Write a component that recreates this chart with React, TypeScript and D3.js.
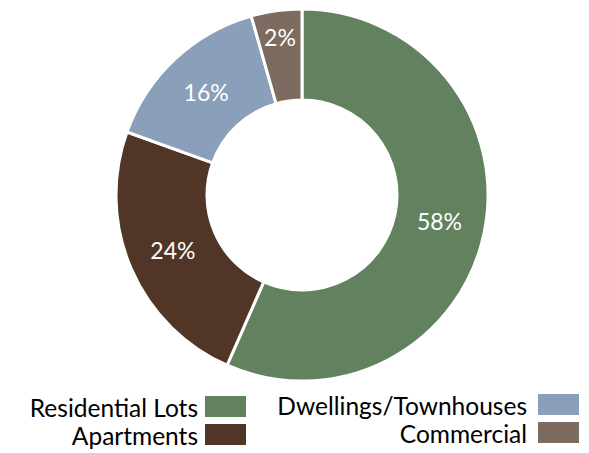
import React from "react";
import * as d3 from "d3";

const categories = ["Residential Lots", "Apartments", "Dwellings/Townhouses", "Commercial"];
// slice sizes as drawn
const values = [56.6, 23.9, 15.1, 4.4];
// data labels as printed on the chart
const labels = ["58%", "24%", "16%", "2%"];
const colors = ["#62825F", "#513628", "#8A9FBA", "#7D6B60"];

const WIDTH = 589;
const HEIGHT = 453;
const FONT = "Lato, 'Open Sans', sans-serif";

const App = () => {
    const cx = 302;
    const cy = 195;
    const outerRadius = 186;
    const innerRadius = 95;

    const pie = d3.pie<number>().sort(null).value((d) => d);
    const arcs = pie(values);
    const arcGen = d3.arc<d3.PieArcDatum<number>>()
        .innerRadius(innerRadius)
        .outerRadius(outerRadius);
    const midR = (innerRadius + outerRadius) / 2;

    // legend: two columns, text right-aligned before the swatch
    const legend = [
        {i: 0, textX: 198, boxX: 205, y: 396},
        {i: 1, textX: 198, boxX: 205, y: 424},
        {i: 2, textX: 527, boxX: 538, y: 394},
        {i: 3, textX: 527, boxX: 538, y: 422},
    ];

    return (
        <svg width={WIDTH} height={HEIGHT} style={{position: "absolute", left: 0, top: 0}}>
            <rect width={WIDTH} height={HEIGHT} fill="#ffffff" />
            <g transform={"translate(" + cx + "," + cy + ")"}>
                {arcs.map((a, i) => (
                    <path key={i} d={arcGen(a) || ""} fill={colors[i]} stroke="#ffffff" strokeWidth={3} />
                ))}
                {arcs.map((a, i) => {
                    const r = i === 3 ? 160 : midR;
                    const ang = (a.startAngle + a.endAngle) / 2;
                    const lx = r * Math.sin(ang);
                    const ly = -r * Math.cos(ang);
                    return (
                        <text
                            key={i}
                            x={lx}
                            y={ly + (i === 0 ? -3 : 0)}
                            textAnchor="middle"
                            dominantBaseline="central"
                            fill="#ffffff"
                            fontSize={23}
                            fontFamily={FONT}
                        >
                            {labels[i]}
                        </text>
                    );
                })}
            </g>
            {legend.map((l) => (
                <g key={l.i}>
                    <text
                        x={l.textX}
                        y={l.y + 11}
                        textAnchor="end"
                        dominantBaseline="central"
                        fontSize={24.5}
                        fontFamily={FONT}
                        fill="#000000"
                    >
                        {categories[l.i]}
                    </text>
                    <rect x={l.boxX} y={l.y} width={41} height={21} fill={colors[l.i]} />
                </g>
            ))}
        </svg>
    );
};

export default App;
